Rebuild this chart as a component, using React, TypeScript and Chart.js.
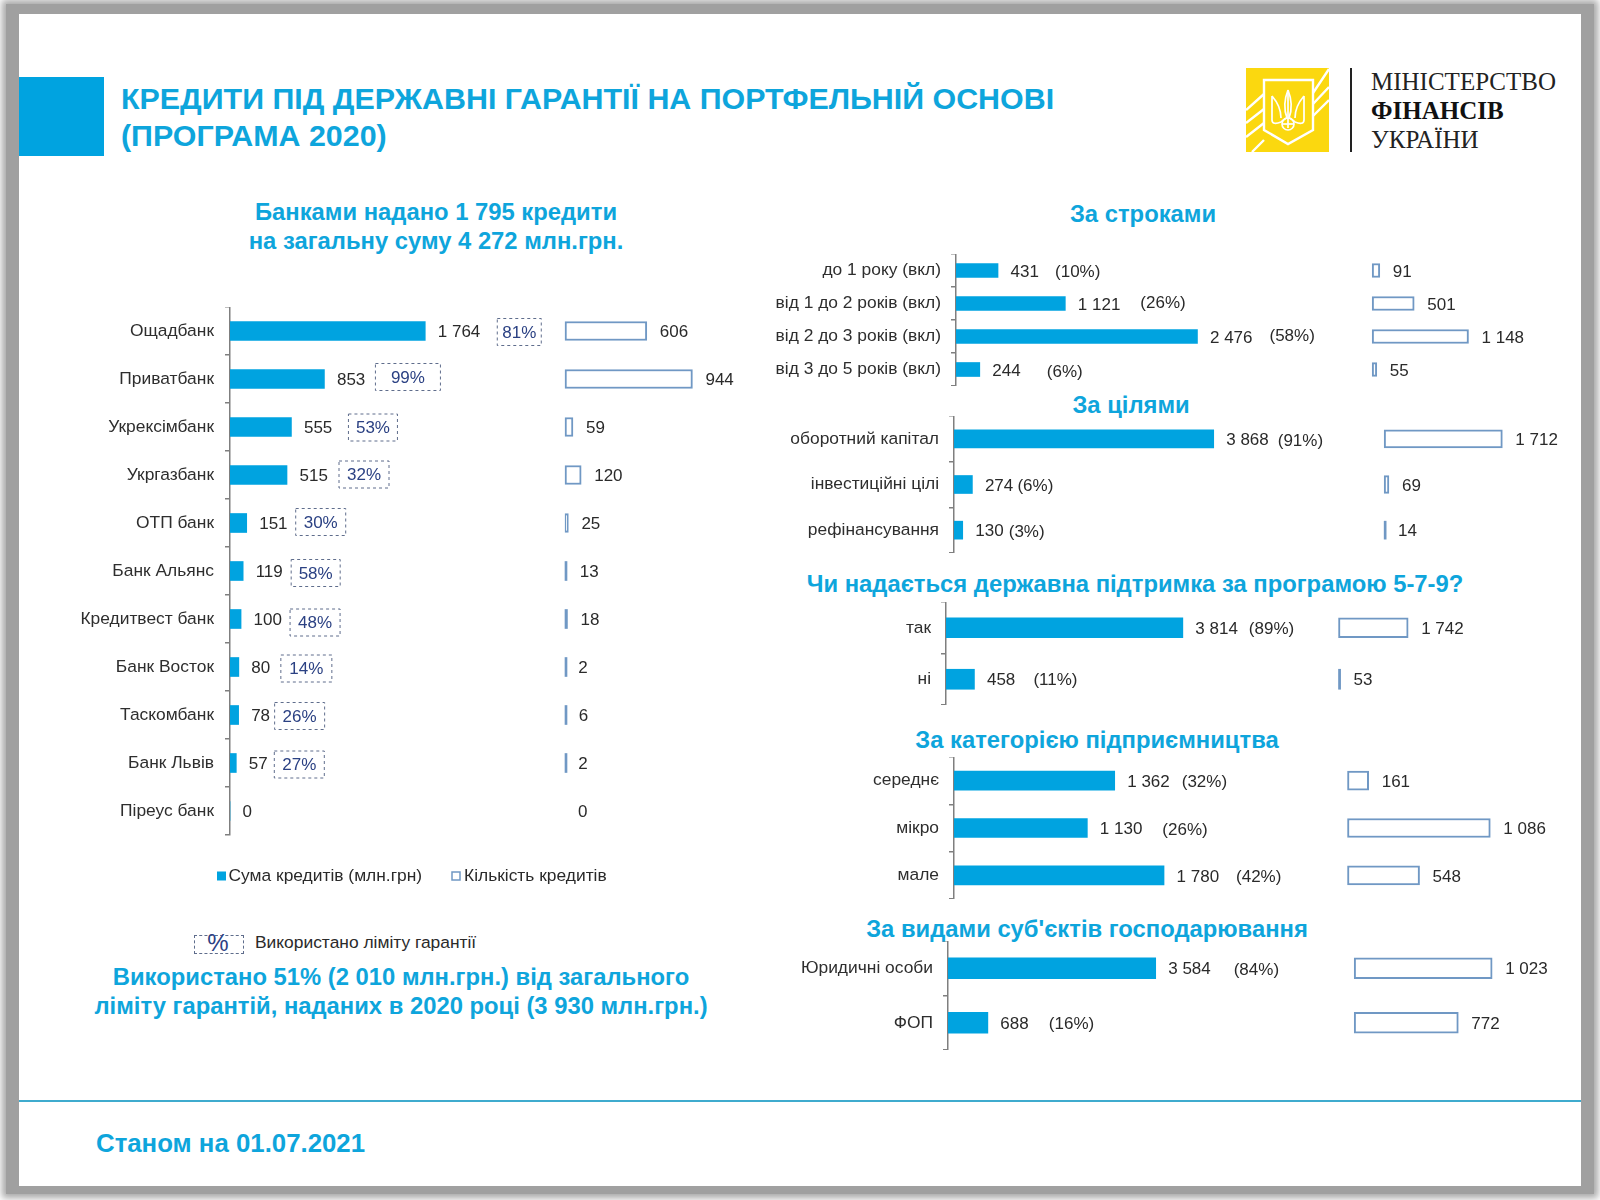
import React, { useEffect, useRef } from "react";
import { Chart, registerables } from "chart.js";

Chart.register(...registerables);

/* ---------- data ---------- */
const bankLabels = ["Ощадбанк", "Приватбанк", "Укрексімбанк", "Укргазбанк", "ОТП банк", "Банк Альянс", "Кредитвест банк", "Банк Восток", "Таскомбанк", "Банк Львів", "Піреус банк"];
const bankAmounts = [1764, 853, 555, 515, 151, 119, 100, 80, 78, 57, 0];
const bankCounts = [606, 944, 59, 120, 25, 13, 18, 2, 6, 2, 0];
const bankLimitUse = ["81%", "99%", "53%", "32%", "30%", "58%", "48%", "14%", "26%", "27%", ""];

const termLabels = ["до 1 року (вкл)", "від 1 до 2 років (вкл)", "від 2 до 3 років (вкл)", "від 3 до 5 років (вкл)"];
const termAmounts = [431, 1121, 2476, 244];
const termCounts = [91, 501, 1148, 55];
const termShares = ["(10%)", "(26%)", "(58%)", "(6%)"];

const goalLabels = ["оборотний капітал", "інвестиційні цілі", "рефінансування"];
const goalAmounts = [3868, 274, 130];
const goalCounts = [1712, 69, 14];
const goalShares = ["(91%)", "(6%)", "(3%)"];

const supportLabels = ["так", "ні"];
const supportAmounts = [3814, 458];
const supportCounts = [1742, 53];
const supportShares = ["(89%)", "(11%)"];

const sizeLabels = ["середнє", "мікро", "мале"];
const sizeAmounts = [1362, 1130, 1780];
const sizeCounts = [161, 1086, 548];
const sizeShares = ["(32%)", "(26%)", "(42%)"];

const entityLabels = ["Юридичні особи", "ФОП"];
const entityAmounts = [3584, 688];
const entityCounts = [1023, 772];
const entityShares = ["(84%)", "(16%)"];

/* ---------- styling / layout ---------- */
const BLUE = "#00a3e0";
const HEAD = "#0ea5dc";
const OUTLINE = "#7098c4";
const TEXT = "#2a2a2a";
const SANS = "'Liberation Sans', Arial, sans-serif";
const SERIF = "'Liberation Serif', serif";

type Panel = {
  labels: string[]; amounts: number[]; counts: number[];
  axisX: number; top: number; bottom: number; right: number;
  k: number; countX: number; k2: number; barH: number; labelPad: number;
  shares?: string[]; shareGaps?: number[]; shareDy?: number[];
  limits?: string[]; limitGaps?: number[]; limitW?: number[]; limitDy?: number[];
  legend?: boolean; canvasBottomExtra?: number;
};

const AXIS_W = 210;

const panels: Panel[] = [
  {
    labels: bankLabels, amounts: bankAmounts, counts: bankCounts,
    axisX: 230, top: 307, bottom: 835, right: 804,
    k: 0.1107, countX: 565, k2: 0.135, barH: 19, labelPad: 11,
    limits: bankLimitUse,
    limitGaps: [72, 51, 57, 52, 49, 48, 49, 42, 36, 38, 0],
    limitW: [44, 65, 49, 50, 50, 49, 50, 51, 50, 50, 0],
    limitDy: [1, -2, 0.5, -0.5, -1, 2, 3.5, 1.5, 1, 1.5, 0],
    legend: true, canvasBottomExtra: 58,
  },
  {
    labels: termLabels, amounts: termAmounts, counts: termCounts,
    axisX: 955.5, top: 254, bottom: 386, right: 1580,
    k: 0.0976, countX: 1372, k2: 0.084, barH: 14, labelPad: 10,
    shares: termShares, shareGaps: [57, 75, 72, 67], shareDy: [0, -2, -2, 1],
  },
  {
    labels: goalLabels, amounts: goalAmounts, counts: goalCounts,
    axisX: 953.5, top: 416, bottom: 553, right: 1580,
    k: 0.0672, countX: 1384, k2: 0.0691, barH: 18, labelPad: 10,
    shares: goalShares, shareGaps: [64, 45, 46], shareDy: [1, 0, 1],
  },
  {
    labels: supportLabels, amounts: supportAmounts, counts: supportCounts,
    axisX: 946, top: 602, bottom: 705, right: 1580,
    k: 0.0621, countX: 1338.5, k2: 0.04, barH: 20, labelPad: 10,
    shares: supportShares, shareGaps: [66, 59], shareDy: [0, 0],
  },
  {
    labels: sizeLabels, amounts: sizeAmounts, counts: sizeCounts,
    axisX: 954, top: 757, bottom: 899, right: 1580,
    k: 0.118, countX: 1347.5, k2: 0.1315, barH: 19, labelPad: 10,
    shares: sizeShares, shareGaps: [67, 75, 72], shareDy: [0, 1, 0],
  },
  {
    labels: entityLabels, amounts: entityAmounts, counts: entityCounts,
    axisX: 947.5, top: 941, bottom: 1050, right: 1580,
    k: 0.058, countX: 1354, k2: 0.135, barH: 21, labelPad: 10,
    shares: entityShares, shareGaps: [78, 61], shareDy: [1, 0],
  },
];

const fmt = (n: number) => String(n).replace(/\B(?=(\d{3})+$)/g, " ");

function annotations(p: Panel) {
  return {
    id: "rowAnnotations",
    afterDatasetsDraw(chart: any) {
      const { ctx } = chart;
      const xA = chart.scales.x;
      const xC = chart.scales.x2;
      const y = chart.scales.y;
      ctx.save();
      ctx.textBaseline = "middle";
      ctx.textAlign = "left";
      p.labels.forEach((_, i) => {
        const cy = y.getPixelForValue(i);
        const endA = xA.getPixelForValue(p.amounts[i]);
        const endC = xC.getPixelForValue(p.counts[i]);
        ctx.font = `17px ${SANS}`;
        ctx.fillStyle = TEXT;
        ctx.fillText(fmt(p.amounts[i]), endA + 12.5, cy + 1.5);
        ctx.fillText(fmt(p.counts[i]), endC + 13, cy + 1.5);
        if (p.shares) {
          ctx.fillText(p.shares[i], endA + p.shareGaps![i], cy + 1.5 + p.shareDy![i]);
        }
        if (p.limits && p.limits[i]) {
          const bx = endA + p.limitGaps![i];
          const w = p.limitW![i];
          const by = cy + p.limitDy![i];
          ctx.save();
          ctx.setLineDash([3, 3]);
          ctx.lineWidth = 1;
          ctx.strokeStyle = "#5f6d8c";
          ctx.strokeRect(bx, by - 13.5, w, 27);
          ctx.restore();
          ctx.fillStyle = "#2b4183";
          ctx.textAlign = "center";
          ctx.fillText(p.limits[i], bx + w / 2, by + 1);
          ctx.textAlign = "left";
        }
      });
      if (p.legend) {
        // legend swatches sit tight against their texts, closer than the built-in legend allows
        const items = chart.data.datasets.map((d: any, i: number) => ({ label: d.label, i }));
        const boxX = [217 - chart.canvas.offsetLeft, 452 - chart.canvas.offsetLeft];
        const textX = [228.5 - chart.canvas.offsetLeft, 464 - chart.canvas.offsetLeft];
        const ly = 876 - chart.canvas.offsetTop;
        ctx.font = `17.4px ${SANS}`;
        items.forEach(({ label, i }: any) => {
          if (i === 0) {
            ctx.fillStyle = BLUE;
            ctx.fillRect(boxX[i], ly - 4.5, 9, 9);
          } else {
            ctx.strokeStyle = OUTLINE;
            ctx.lineWidth = 1.5;
            ctx.strokeRect(boxX[i], ly - 4, 8, 8);
          }
          ctx.fillStyle = TEXT;
          ctx.fillText(label, textX[i], ly);
        });
      }
      ctx.restore();
    },
  };
}

function PanelChart({ p }: { p: Panel }) {
  const ref = useRef<HTMLCanvasElement>(null);
  const left = p.axisX - AXIS_W;
  const width = p.right - left;
  const areaW = p.right - p.axisX;
  const zero = p.countX - p.axisX;
  const extra = p.canvasBottomExtra || 0;
  const height = p.bottom - p.top + extra;
  // bars too narrow to show a hollow outline read as a solid stroke
  const thin = (c: any) => c.raw * p.k2 < 3;

  useEffect(() => {
    const chart = new Chart(ref.current as HTMLCanvasElement, {
      type: "bar",
      data: {
        labels: p.labels,
        datasets: [
          {
            label: "Сума кредитів (млн.грн)",
            data: p.amounts,
            xAxisID: "x",
            backgroundColor: BLUE,
            borderWidth: 0,
            barThickness: p.barH,
            grouped: false,
          },
          {
            label: "Кількість кредитів",
            data: p.counts,
            xAxisID: "x2",
            backgroundColor: (c: any) => (c.raw === 0 ? "transparent" : thin(c) ? OUTLINE : "#ffffff"),
            borderColor: (c: any) => (c.raw === 0 ? "transparent" : OUTLINE),
            borderWidth: (c: any) => (thin(c) ? 0 : 2),
            borderSkipped: false,
            minBarLength: 2,
            barThickness: p.barH,
            grouped: false,
          },
        ] as any,
      },
      options: {
        indexAxis: "y",
        responsive: false,
        animation: false,
        layout: { padding: { top: 0, left: 0, right: 0, bottom: extra } },
        plugins: {
          title: { display: false },
          tooltip: { enabled: false },
          legend: { display: false },
        },
        scales: {
          x: { display: false, min: 0, max: areaW / p.k },
          x2: { display: false, min: -zero / p.k2, max: (areaW - zero) / p.k2 },
          y: {
            type: "category",
            position: "left",
            offset: true,
            afterFit: (s: any) => { s.width = AXIS_W; s.paddingTop = 0; s.paddingBottom = 0; },
            border: { display: true, color: "#7f7f7f", width: 1.5 },
            grid: { drawOnChartArea: false, drawTicks: true, tickLength: 5, color: "#7f7f7f", lineWidth: 1.5, offset: true },
            ticks: {
              autoSkip: false, padding: p.labelPad, color: "#2e2e2e",
              font: { family: SANS, size: 17.4 },
            },
          },
        },
      } as any,
      plugins: [annotations(p)],
    });
    return () => chart.destroy();
  }, []);

  return (
    <canvas
      ref={ref}
      width={width}
      height={height}
      style={{ position: "absolute", left, top: p.top, width, height }}
    />
  );
}

function T({ x, y, size, text, color = HEAD, bold = true, align = "center", family = SANS }: any) {
  return (
    <div
      style={{
        position: "absolute", left: x, top: y,
        transform: `translate(${align === "center" ? "-50%" : "0"}, -50%)`,
        fontFamily: family, fontSize: size, fontWeight: bold ? 700 : 400,
        color, whiteSpace: "nowrap", lineHeight: 1,
      }}
    >
      {text}
    </div>
  );
}

function Logo() {
  return (
    <svg width={83} height={84} viewBox="0 0 83 84" style={{ position: "absolute", left: 1246, top: 68 }}>
      <rect width={83} height={84} fill="#fbd80f" />
      <g stroke="#fff" strokeWidth={2.4} fill="none">
        <path d="M0 42 L18 26 M0 55 L18 41 M0 69 L18 55 M6 84 L18 72" />
        <path d="M67 25 L83 1 M67 36 L83 19 M67 48 L83 32" />
        <path d="M18 12 H67 V62 L42 76 L18 62 Z" fill="#fbd80f" />
      </g>
      <g stroke="#fff" strokeWidth={1.7} fill="none">
        <path d="M42 22 V60" />
        <path d="M42 22 C38 32 38 42 41 50 M42 22 C46 32 46 42 43 50" />
        <path d="M26 28 V52 C26 56 30 56 35 54 L40 50 M26 28 C33 36 35 42 35 50" />
        <path d="M58 28 V52 C58 56 54 56 49 54 L44 50 M58 28 C51 36 49 42 49 50" />
        <circle cx={42} cy={56} r={6} />
        <path d="M36 56 H48" />
      </g>
    </svg>
  );
}

export default function App() {
  return (
    <div style={{ position: "absolute", left: 0, top: 0, width: 1600, height: 1200, background: "#fff", overflow: "hidden" }}>
      <div style={{ position: "absolute", left: 6, top: 4, width: 1588, height: 1190, background: "#a0a0a0", boxShadow: "0 0 7px 4px #a8a8a8" }} />
      <div style={{ position: "absolute", left: 19, top: 14, width: 1562, height: 1172, background: "#fff" }} />

      <div style={{ position: "absolute", left: 19, top: 77, width: 85, height: 79, background: BLUE }} />
      <T x={121} y={98} size={30.4} text="КРЕДИТИ ПІД ДЕРЖАВНІ ГАРАНТІЇ НА ПОРТФЕЛЬНІЙ ОСНОВІ" align="left" />
      <T x={121} y={135} size={30.4} text="(ПРОГРАМА 2020)" align="left" />

      <Logo />
      <div style={{ position: "absolute", left: 1350, top: 68, width: 1.5, height: 84, background: "#222" }} />
      <T x={1371} y={81} size={25} text="МІНІСТЕРСТВО" color="#222" bold={false} align="left" family={SERIF} />
      <T x={1371} y={110} size={25} text="ФІНАНСІВ" color="#111" align="left" family={SERIF} />
      <T x={1371} y={139} size={25} text="УКРАЇНИ" color="#222" bold={false} align="left" family={SERIF} />

      <T x={436} y={212} size={23.8} text="Банками надано 1 795 кредити" />
      <T x={436} y={241} size={23.8} text="на загальну суму 4 272 млн.грн." />

      <T x={1143} y={214} size={23.8} text="За строками" />
      <T x={1131} y={405} size={23.8} text="За цілями" />
      <T x={1135} y={584} size={23.8} text="Чи надається державна підтримка за програмою 5-7-9?" />
      <T x={1097} y={740} size={23.8} text="За категорією підприємництва" />
      <T x={1087} y={929} size={23.8} text="За видами суб'єктів господарювання" />

      {panels.map((p, i) => <PanelChart key={i} p={p} />)}

      <div style={{ position: "absolute", left: 194, top: 934.5, width: 50, height: 19.5, border: "1px dashed #5f6d8c", boxSizing: "border-box" }} />
      <T x={218} y={943} size={24} text="%" color="#2b4183" bold={false} />
      <T x={255} y={943} size={17.4} text="Використано ліміту гарантії" color={TEXT} bold={false} align="left" />

      <T x={401} y={977} size={23.8} text="Використано 51% (2 010 млн.грн.) від загального" />
      <T x={401} y={1006} size={23.8} text="ліміту гарантій, наданих в 2020 році (3 930 млн.грн.)" />

      <div style={{ position: "absolute", left: 19, top: 1100, width: 1562, height: 2, background: "#3fabce" }} />
      <T x={96} y={1144} size={25.8} text="Станом на 01.07.2021" align="left" />
    </div>
  );
}
